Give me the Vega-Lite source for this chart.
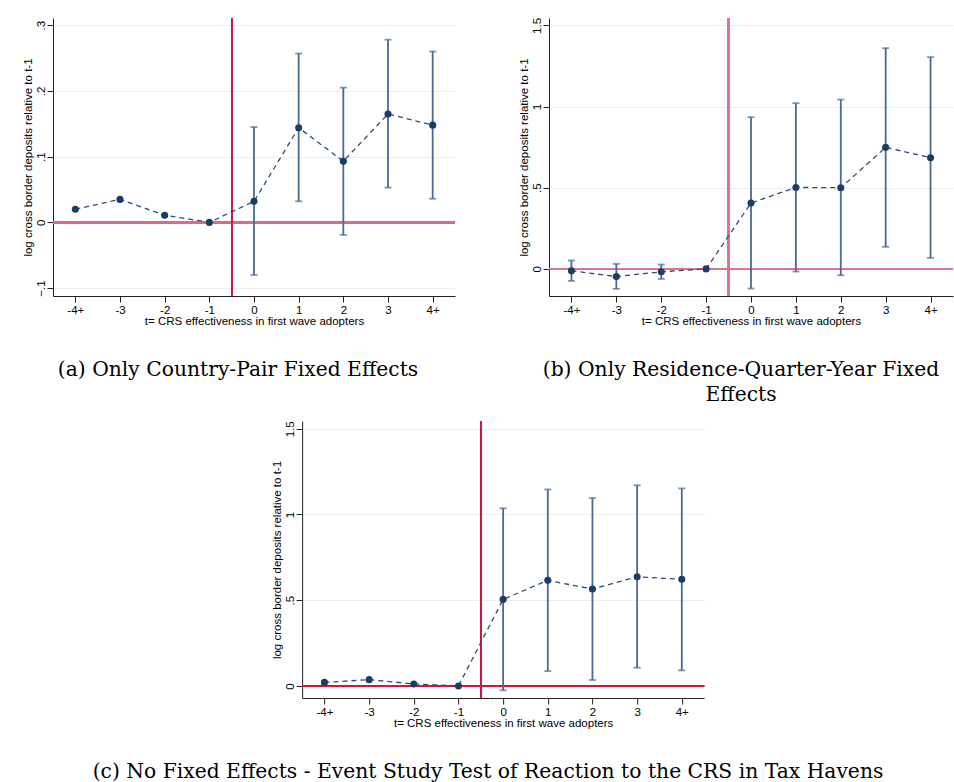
{
  "$schema": "https://vega.github.io/schema/vega-lite/v6.json",
  "background": "white",
  "padding": {"left": 22, "top": 17, "right": 0, "bottom": 0},
  "columns": 1,
  "spacing": 14,
  "align": {"row": "each", "column": "all"},
  "center": true,
  "title": {"text": "(c) No Fixed Effects - Event Study Test of Reaction to the CRS in Tax Havens", "orient": "bottom", "anchor": "middle", "offset": 33, "frame": "bounds"},
  "config": {
    "view": {"stroke": null},
    "axis": {
      "labelFont": "Liberation Sans", "titleFont": "Liberation Sans",
      "labelFontSize": 11.5, "titleFontSize": 11.5, "titleFontWeight": "normal",
      "labelColor": "#000", "titleColor": "#000",
      "domainColor": "#222", "tickColor": "#222", "gridColor": "#e6eff1",
      "tickSize": 6, "domainWidth": 1, "tickWidth": 1
    },
    "title": {"font": "DejaVu Serif", "fontSize": 20.3, "fontWeight": "normal", "color": "#000", "orient": "bottom", "anchor": "middle"}
  },
  "datasets": {
    "a": [
      {"i": 0, "pt": 0.02, "lo": null, "hi": null},
      {"i": 1, "pt": 0.035, "lo": null, "hi": null},
      {"i": 2, "pt": 0.011, "lo": null, "hi": null},
      {"i": 3, "pt": 0.0, "lo": null, "hi": null},
      {"i": 4, "pt": 0.032, "lo": -0.08, "hi": 0.145},
      {"i": 5, "pt": 0.144, "lo": 0.032, "hi": 0.257},
      {"i": 6, "pt": 0.093, "lo": -0.019, "hi": 0.205},
      {"i": 7, "pt": 0.165, "lo": 0.053, "hi": 0.278},
      {"i": 8, "pt": 0.148, "lo": 0.036, "hi": 0.26}
    ],
    "b": [
      {"i": 0, "pt": -0.012, "lo": -0.074, "hi": 0.052},
      {"i": 1, "pt": -0.047, "lo": -0.123, "hi": 0.031},
      {"i": 2, "pt": -0.018, "lo": -0.062, "hi": 0.027},
      {"i": 3, "pt": 0.0, "lo": null, "hi": null},
      {"i": 4, "pt": 0.406, "lo": -0.121, "hi": 0.935},
      {"i": 5, "pt": 0.502, "lo": -0.016, "hi": 1.021},
      {"i": 6, "pt": 0.5, "lo": -0.039, "hi": 1.043},
      {"i": 7, "pt": 0.749, "lo": 0.136, "hi": 1.36},
      {"i": 8, "pt": 0.685, "lo": 0.068, "hi": 1.305}
    ],
    "c": [
      {"i": 0, "pt": 0.021, "lo": null, "hi": null},
      {"i": 1, "pt": 0.037, "lo": null, "hi": null},
      {"i": 2, "pt": 0.012, "lo": null, "hi": null},
      {"i": 3, "pt": 0.0, "lo": null, "hi": null},
      {"i": 4, "pt": 0.505, "lo": -0.025, "hi": 1.036},
      {"i": 5, "pt": 0.616, "lo": 0.087, "hi": 1.146},
      {"i": 6, "pt": 0.565, "lo": 0.035, "hi": 1.096},
      {"i": 7, "pt": 0.637, "lo": 0.107, "hi": 1.17},
      {"i": 8, "pt": 0.622, "lo": 0.091, "hi": 1.152}
    ]
  },
  "concat": [
    {
      "hconcat": [
        {
          "width": 402, "height": 278,
          "data": {"name": "a"},
          "title": {"text": "(a) Only Country-Pair Fixed Effects", "offset": 33, "dx": -16},
          "layer": [
            {"mark": {"type": "rule", "color": "#dc6a86", "strokeWidth": 2}, "encoding": {"y": {"datum": 0, "type": "quantitative"}}},
            {"mark": {"type": "rule", "color": "#c8183f", "strokeWidth": 1.3}, "encoding": {"x": {"datum": 3.5, "type": "quantitative"}}},
            {"transform": [{"filter": "datum.lo != null"}], "mark": {"type": "errorbar", "ticks": {"size": 7}, "thickness": 1.8, "color": "#4a6a8e"},
             "encoding": {"x": {"field": "i", "type": "quantitative"}, "y": {"field": "lo", "type": "quantitative", "title": "log cross border deposits relative to  t-1"}, "y2": {"field": "hi"}}},
            {"mark": {"type": "line", "strokeDash": [5, 4], "strokeWidth": 1.3, "color": "#2b4d75"},
             "encoding": {
               "x": {"field": "i", "type": "quantitative", "scale": {"domain": [-0.5, 8.5], "nice": false, "zero": false},
                     "axis": {"values": [0, 1, 2, 3, 4, 5, 6, 7, 8], "labelExpr": "['-4+','-3','-2','-1','0','1','2','3','4+'][datum.value]", "grid": false, "title": "t= CRS effectiveness in first wave adopters", "labelPadding": 2, "titlePadding": 0}},
               "y": {"field": "pt", "type": "quantitative", "scale": {"domain": [-0.112, 0.311], "nice": false, "zero": false},
                     "axis": {"values": [-0.1, 0, 0.1, 0.2, 0.3], "labelExpr": "replace(format(datum.value, '.1~f'), '0.', '.')", "labelAngle": -90, "labelAlign": "center", "labelBaseline": "bottom", "labelPadding": 1, "title": "log cross border deposits relative to  t-1", "titlePadding": 2, "grid": true}}
             }},
            {"mark": {"type": "point", "filled": true, "size": 50, "color": "#1a3d66", "opacity": 1},
             "encoding": {"x": {"field": "i", "type": "quantitative"}, "y": {"field": "pt", "type": "quantitative"}}}
          ]
        },
        {
          "width": 404, "height": 278,
          "data": {"name": "b"},
          "title": {"text": ["(b) Only Residence-Quarter-Year Fixed", "Effects"], "offset": 33, "lineHeight": 25, "dx": -10},
          "layer": [
            {"mark": {"type": "rule", "color": "#e0728c", "strokeWidth": 2}, "encoding": {"y": {"datum": 0, "type": "quantitative"}}},
            {"mark": {"type": "rule", "color": "#e0728c", "strokeWidth": 2}, "encoding": {"x": {"datum": 3.5, "type": "quantitative"}}},
            {"transform": [{"filter": "datum.lo != null"}], "mark": {"type": "errorbar", "ticks": {"size": 7}, "thickness": 1.8, "color": "#4a6a8e"},
             "encoding": {"x": {"field": "i", "type": "quantitative"}, "y": {"field": "lo", "type": "quantitative", "title": "log cross border deposits relative to  t-1"}, "y2": {"field": "hi"}}},
            {"mark": {"type": "line", "strokeDash": [5, 4], "strokeWidth": 1.3, "color": "#2b4d75"},
             "encoding": {
               "x": {"field": "i", "type": "quantitative", "scale": {"domain": [-0.5, 8.5], "nice": false, "zero": false},
                     "axis": {"values": [0, 1, 2, 3, 4, 5, 6, 7, 8], "labelExpr": "['-4+','-3','-2','-1','0','1','2','3','4+'][datum.value]", "grid": false, "title": "t= CRS effectiveness in first wave adopters", "labelPadding": 2, "titlePadding": 0}},
               "y": {"field": "pt", "type": "quantitative", "scale": {"domain": [-0.167, 1.546], "nice": false, "zero": false},
                     "axis": {"values": [0, 0.5, 1, 1.5], "labelExpr": "replace(format(datum.value, '.1~f'), '0.', '.')", "labelAngle": -90, "labelAlign": "center", "labelBaseline": "bottom", "labelPadding": 1, "title": "log cross border deposits relative to  t-1", "titlePadding": 2, "grid": true}}
             }},
            {"mark": {"type": "point", "filled": true, "size": 50, "color": "#1a3d66", "opacity": 1},
             "encoding": {"x": {"field": "i", "type": "quantitative"}, "y": {"field": "pt", "type": "quantitative"}}}
          ]
        }
      ],
      "spacing": 62
    },
    {
      "width": 402, "height": 277,
      "data": {"name": "c"},
      "layer": [
        {"mark": {"type": "rule", "color": "#d2153f", "strokeWidth": 1.5}, "encoding": {"y": {"datum": 0, "type": "quantitative"}}},
        {"mark": {"type": "rule", "color": "#d2153f", "strokeWidth": 1.5}, "encoding": {"x": {"datum": 3.5, "type": "quantitative"}}},
        {"transform": [{"filter": "datum.lo != null"}], "mark": {"type": "errorbar", "ticks": {"size": 7}, "thickness": 1.8, "color": "#4a6a8e"},
         "encoding": {"x": {"field": "i", "type": "quantitative"}, "y": {"field": "lo", "type": "quantitative", "title": "log cross border deposits relative to  t-1"}, "y2": {"field": "hi"}}},
        {"mark": {"type": "line", "strokeDash": [5, 4], "strokeWidth": 1.3, "color": "#2b4d75"},
         "encoding": {
           "x": {"field": "i", "type": "quantitative", "scale": {"domain": [-0.5, 8.5], "nice": false, "zero": false},
                 "axis": {"values": [0, 1, 2, 3, 4, 5, 6, 7, 8], "labelExpr": "['-4+','-3','-2','-1','0','1','2','3','4+'][datum.value]", "grid": false, "title": "t= CRS effectiveness in first wave adopters", "labelPadding": 2, "titlePadding": 0}},
           "y": {"field": "pt", "type": "quantitative", "scale": {"domain": [-0.07, 1.545], "nice": false, "zero": false},
                 "axis": {"values": [0, 0.5, 1, 1.5], "labelExpr": "replace(format(datum.value, '.1~f'), '0.', '.')", "labelAngle": -90, "labelAlign": "center", "labelBaseline": "bottom", "labelPadding": 1, "title": "log cross border deposits relative to  t-1", "titlePadding": 2, "grid": true}}
         }},
        {"mark": {"type": "point", "filled": true, "size": 50, "color": "#1a3d66", "opacity": 1},
         "encoding": {"x": {"field": "i", "type": "quantitative"}, "y": {"field": "pt", "type": "quantitative"}}}
      ]
    }
  ]
}
